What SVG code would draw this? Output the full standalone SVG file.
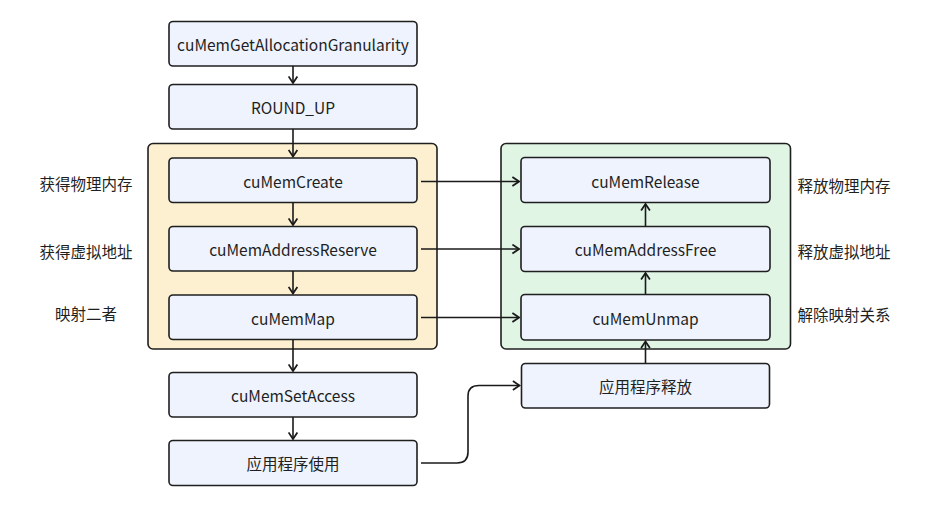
<svg xmlns="http://www.w3.org/2000/svg" width="931" height="507" viewBox="0 0 931 507">
<defs>
<marker id="arr" viewBox="0 0 10 10" refX="9" refY="5" markerWidth="11" markerHeight="11" markerUnits="userSpaceOnUse" orient="auto">
<path d="M3,1 L9,5 L3,9" fill="none" stroke="#1a1a1a" stroke-width="1.6"/>
</marker>
<style>
.node rect{fill:#eef3fd;stroke:#1f1f1f;stroke-width:1.6}
.t{font-family:"Noto Sans CJK SC","Noto Sans",sans-serif;font-size:15.5px;fill:#1f1f1f;text-anchor:middle;dominant-baseline:central}
.c{fill:none;stroke:#1a1a1a;stroke-width:1.6;marker-end:url(#arr)}
</style>
</defs>
<rect width="931" height="507" fill="#ffffff"/>
<g id="group-alloc">
<rect x="148" y="143.5" width="289" height="205.5" rx="5" fill="#fdf0d0" stroke="#1f1f1f" stroke-width="1.6"/>
</g>
<g id="group-free">
<rect x="501" y="143.5" width="289.5" height="205.5" rx="5" fill="#e0f5e4" stroke="#1f1f1f" stroke-width="1.6"/>
</g>
<g id="n-gran" class="node"><rect x="169" y="21.5" width="248" height="44.5" rx="4"/><text class="t" x="293" y="44">cuMemGetAllocationGranularity</text></g>
<g id="n-round" class="node"><rect x="169" y="84.5" width="248" height="44.5" rx="4"/><text class="t" x="293" y="107">ROUND_UP</text></g>
<g id="n-create" class="node"><rect x="169" y="158" width="248" height="44.5" rx="4"/><text class="t" x="293" y="180.5">cuMemCreate</text></g>
<g id="n-reserve" class="node"><rect x="169" y="226.5" width="248" height="44.5" rx="4"/><text class="t" x="293" y="249">cuMemAddressReserve</text></g>
<g id="n-map" class="node"><rect x="169" y="295" width="248" height="44.5" rx="4"/><text class="t" x="293" y="317.5">cuMemMap</text></g>
<g id="n-setaccess" class="node"><rect x="169" y="372.5" width="248" height="44.5" rx="4"/><text class="t" x="293" y="395">cuMemSetAccess</text></g>
<g id="n-use" class="node"><rect x="169" y="440.5" width="248" height="45" rx="4"/><text class="t" x="293" y="463">应用程序使用</text></g>
<g id="n-release" class="node"><rect x="521" y="157.5" width="249" height="45" rx="4"/><text class="t" x="645.5" y="180.5">cuMemRelease</text></g>
<g id="n-addrfree" class="node"><rect x="521" y="226.5" width="249" height="45" rx="4"/><text class="t" x="645.5" y="249">cuMemAddressFree</text></g>
<g id="n-unmap" class="node"><rect x="521" y="294.5" width="249" height="45.5" rx="4"/><text class="t" x="645.5" y="317.5">cuMemUnmap</text></g>
<g id="n-appfree" class="node"><rect x="521.5" y="363.5" width="248" height="44.5" rx="4"/><text class="t" x="645.5" y="386">应用程序释放</text></g>
<g id="labels">
<text class="t" x="86" y="183">获得物理内存</text>
<text class="t" x="86" y="250.5">获得虚拟地址</text>
<text class="t" x="86" y="313">映射二者</text>
<text class="t" x="844" y="185">释放物理内存</text>
<text class="t" x="844" y="251">释放虚拟地址</text>
<text class="t" x="844" y="314">解除映射关系</text>
</g>
<g id="connectors">
<path class="c" d="M293,66 V83"/>
<path class="c" d="M293,129 V156.5"/>
<path class="c" d="M293,202.5 V225"/>
<path class="c" d="M293,271 V293.5"/>
<path class="c" d="M293,339.5 V371"/>
<path class="c" d="M293,417 V439"/>
<path class="c" d="M421,181.5 H519"/>
<path class="c" d="M421,249 H519"/>
<path class="c" d="M421,317.5 H519"/>
<path class="c" d="M645.5,226.5 V204"/>
<path class="c" d="M645.5,294.5 V273"/>
<path class="c" d="M645.5,363.5 V341.5"/>
<path class="c" d="M421,463 H457 Q468,463 468,452 V396 Q468,385.5 479,385.5 H519.5"/>
</g>
</svg>
